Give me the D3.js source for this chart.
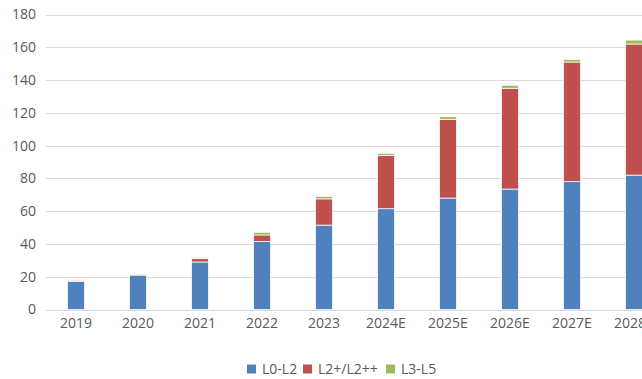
<!DOCTYPE html>
<html><head><meta charset="utf-8">
<script src="https://cdn.jsdelivr.net/npm/d3@7"></script>
<style>
html,body{margin:0;padding:0;background:#fff;overflow:hidden;}
text{font-family:"Open Sans","Noto Sans",sans-serif;fill:#595959;}
</style></head>
<body>
<svg id="c" width="642" height="379"></svg>
<script>
const categories = ["2019","2020","2021","2022","2023","2024E","2025E","2026E","2027E","2028E"];
const seriesNames = ["L0-L2","L2+/L2++","L3-L5"];
const l0l2 = [17, 21, 29, 41.5, 51.5, 61.5, 68, 73.5, 78, 82];
const l2plus = [0.6, 0.5, 2, 4, 16, 32.5, 48, 61.5, 73, 80];
const l3l5 = [0.6, 0.5, 0.8, 1.6, 1.5, 1.3, 1.6, 1.8, 1.5, 2.4];
const colors = ["#4F81BD","#C0504D","#9BBB59"];
const yTicks = [0,20,40,60,80,100,120,140,160,180];

const svg = d3.select("#c");
const x = d3.scaleBand().domain(categories).range([45, 665]).paddingInner(0.726).paddingOuter(0.363);
const y = d3.scaleLinear().domain([0,180]).range([309.5, 14.5]);

// gridlines
svg.append("g").selectAll("line").data(yTicks).join("line")
  .attr("x1", 46).attr("x2", 642)
  .attr("y1", d => Math.round(y(d))+0.5).attr("y2", d => Math.round(y(d))+0.5)
  .attr("stroke", "#d9d9d9").attr("stroke-width", 1);

// y axis labels
const yAxis = d3.axisLeft(y).tickValues(yTicks).tickSize(0).tickPadding(0);
const gy = svg.append("g").attr("transform","translate(36,0)").call(yAxis);
gy.select(".domain").remove();
gy.selectAll("text").attr("font-size", 14).style("font-family",'"Open Sans","Noto Sans",sans-serif').attr("fill","#595959");

// x axis labels
const xAxis = d3.axisBottom(x).tickSize(0).tickPadding(0);
const gx = svg.append("g").attr("transform","translate(0,318)").call(xAxis);
gx.select(".domain").remove();
gx.selectAll("text").attr("font-size", 14).style("font-family",'"Open Sans","Noto Sans",sans-serif').attr("fill","#595959");

// stacked data
const rows = categories.map((c,i) => ({cat:c, "L0-L2":l0l2[i], "L2+/L2++":l2plus[i], "L3-L5":l3l5[i]}));
const stack = d3.stack().keys(seriesNames)(rows);
svg.append("g").selectAll("g").data(stack).join("g")
  .attr("fill", (d,i) => colors[i])
  .selectAll("rect").data(d => d).join("rect")
  .attr("x", d => x(d.data.cat))
  .attr("width", x.bandwidth())
  .attr("y", d => y(d[1]))
  .attr("height", d => y(d[0]) - y(d[1]))
  .attr("stroke", "#fff").attr("stroke-width", 0.75);

// legend
const lg = svg.append("g").attr("transform","translate(247,369)");
const legendX = [0, 56, 139];
seriesNames.forEach((n,i) => {
  const g = lg.append("g").attr("transform", `translate(${legendX[i]},0)`);
  g.append("rect").attr("x",0).attr("y",-4.5).attr("width",9).attr("height",9).attr("fill",colors[i]);
  g.append("text").attr("x",15).attr("y",0).attr("dy","0.35em").attr("font-size",14).text(n);
});
</script>
</body></html>
